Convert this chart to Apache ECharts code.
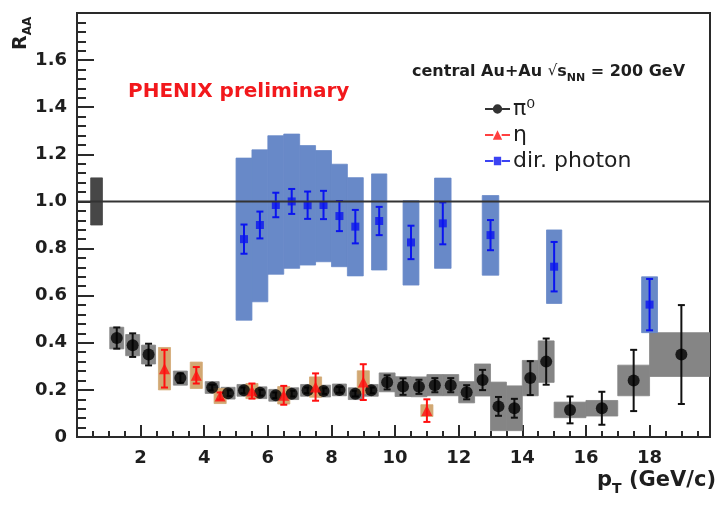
<!DOCTYPE html>
<html><head><meta charset="utf-8">
<script src="https://cdn.jsdelivr.net/npm/echarts@6/dist/echarts.min.js"></script>
<style>html,body{margin:0;padding:0;background:#fff}#c{width:719px;height:508px}</style>
</head><body><div id="c"></div>
<script>
// ---- data ----
const pi0X   = [1.25,1.75,2.25,3.25,4.25,4.75,5.25,5.75,6.25,6.75,7.25,7.75,8.25,8.75,9.25,9.75,10.25,10.75,11.25,11.75,12.25,12.75,13.25,13.75,14.25,14.75,15.5,16.5,17.5,19];
const pi0Y   = [0.42,0.39,0.35,0.25,0.21,0.186,0.198,0.188,0.177,0.184,0.198,0.195,0.2,0.184,0.198,0.232,0.214,0.213,0.22,0.22,0.19,0.242,0.13,0.122,0.25,0.32,0.115,0.122,0.24,0.35];
const pi0Err = [0.045,0.05,0.046,0.02,0.012,0.012,0.012,0.012,0.012,0.012,0.012,0.012,0.012,0.012,0.012,0.03,0.035,0.03,0.03,0.03,0.03,0.043,0.04,0.04,0.072,0.098,0.057,0.07,0.13,0.21];
const pi0Sys = [0.046,0.045,0.04,0.03,0.025,0.025,0.025,0.025,0.025,0.025,0.025,0.025,0.025,0.025,0.025,0.04,0.042,0.042,0.045,0.045,0.045,0.068,0.103,0.095,0.075,0.088,0.033,0.033,0.065,0.093];
const pi0BinHalf = [0.22,0.22,0.22,0.22,0.22,0.22,0.22,0.22,0.22,0.22,0.22,0.22,0.22,0.22,0.22,0.25,0.25,0.25,0.25,0.25,0.25,0.25,0.25,0.25,0.25,0.25,0.5,0.5,0.5,1.0];

const etaX   = [2.75,3.75,4.5,5.5,6.5,7.5,9.0,11.0];
const etaY   = [0.29,0.262,0.174,0.195,0.177,0.212,0.233,0.112];
const etaErr = [0.08,0.035,0.015,0.032,0.04,0.058,0.076,0.048];
const etaSys = [0.09,0.056,0.032,0.032,0.037,0.043,0.048,0.025];
const etaBinHalf = [0.19,0.19,0.19,0.19,0.19,0.19,0.19,0.19];

const gamX   = [5.25,5.75,6.25,6.75,7.25,7.75,8.25,8.75,9.5,10.5,11.5,13,15,18];
const gamY   = [0.84,0.9,0.985,1.0,0.984,0.985,0.938,0.893,0.917,0.826,0.907,0.857,0.723,0.562];
const gamErr = [0.062,0.057,0.052,0.053,0.058,0.06,0.064,0.071,0.06,0.071,0.089,0.064,0.105,0.109];
const gamSysLo = [0.496,0.574,0.691,0.716,0.73,0.744,0.723,0.684,0.709,0.645,0.716,0.687,0.567,0.443];
const gamSysHi = [1.184,1.219,1.279,1.286,1.237,1.216,1.158,1.101,1.117,1.003,1.099,1.025,0.879,0.68];
const gamBinHalf = [0.25,0.25,0.25,0.25,0.25,0.25,0.25,0.25,0.24,0.25,0.26,0.26,0.24,0.25];

const normX = [0.615], normHalf = [0.185], normLo = [0.9], normHi = [1.1];
const unityX = [0, 19.9], unityY = [1, 1];

// ---- build ----
const F = 'DejaVu Sans';
const TXT = '#1e1e1e';
function boxData(xs, half, lo, hi){ return xs.map((x,i)=>[x-half[i], x+half[i], lo[i], hi[i]]); }
function errData(xs, ys, e){ return xs.map((x,i)=>[x, ys[i]-e[i], ys[i]+e[i]]); }
function boxSeries(name, data, color){
  return {type:'custom', name, data, clip:true, encode:{x:[0,1], y:[2,3]},
    renderItem(params, api){
      const a = api.coord([api.value(0), api.value(3)]);
      const b = api.coord([api.value(1), api.value(2)]);
      return {type:'rect', shape:{x:a[0], y:a[1], width:b[0]-a[0], height:b[1]-a[1]},
        style:{fill:color, stroke:color, lineWidth:0.8}};
    }};
}
function errSeries(name, data, color, cap){
  return {type:'custom', name, data, clip:true, encode:{x:0, y:[1,2]},
    renderItem(params, api){
      const x = api.value(0);
      const lo = api.coord([x, api.value(1)]);
      const hi = api.coord([x, api.value(2)]);
      const st = {stroke:color, lineWidth:2};
      return {type:'group', children:[
        {type:'line', shape:{x1:lo[0], y1:lo[1], x2:hi[0], y2:hi[1]}, style:st},
        {type:'line', shape:{x1:lo[0]-cap, y1:lo[1], x2:lo[0]+cap, y2:lo[1]}, style:st},
        {type:'line', shape:{x1:hi[0]-cap, y1:hi[1], x2:hi[0]+cap, y2:hi[1]}, style:st}
      ]};
    }};
}

const pi0Lo = pi0Y.map((y,i)=>y-pi0Sys[i]), pi0Hi = pi0Y.map((y,i)=>y+pi0Sys[i]);
const etaLo = etaY.map((y,i)=>y-etaSys[i]), etaHi = etaY.map((y,i)=>y+etaSys[i]);

const chart = echarts.init(document.getElementById('c'), null, {renderer:'canvas'});
const option = {
  animation:false,
  backgroundColor:'#fff',
  grid:{left:77, right:9, top:13, bottom:71, show:true, borderColor:'#2a2a2a', borderWidth:2, backgroundColor:'transparent'},
  xAxis:{type:'value', min:0, max:19.9, interval:2,
    axisLine:{show:true, onZero:false, lineStyle:{color:'#2a2a2a', width:2}},
    axisTick:{show:true, inside:true, length:12, lineStyle:{color:'#2a2a2a', width:2}},
    minorTick:{show:true, splitNumber:4, length:6, lineStyle:{color:'#2a2a2a', width:2}},
    splitLine:{show:false},
    axisLabel:{margin:12, color:TXT, fontFamily:F, fontWeight:'bold', fontSize:18,
      formatter:v=>(v>0 && v<19 && Math.abs(v%2)<1e-9)?String(v):''},
    name:'{b|p}{s|T}{b| (GeV/c)}', nameLocation:'end', nameGap:6,
    nameTextStyle:{align:'right', verticalAlign:'top', padding:[33,0,0,0], color:TXT,
      rich:{b:{fontFamily:F, fontWeight:'bold', fontSize:21, lineHeight:23, verticalAlign:'top', color:TXT},
            s:{fontFamily:F, fontWeight:'bold', fontSize:14, lineHeight:15, verticalAlign:'top', padding:[12,0,0,0], color:TXT}}}
  },
  yAxis:{type:'value', min:0, max:1.8, interval:0.2,
    axisLine:{show:true, onZero:false, lineStyle:{color:'#2a2a2a', width:2}},
    axisTick:{show:true, inside:true, length:17, lineStyle:{color:'#2a2a2a', width:2}},
    minorTick:{show:true, splitNumber:5, length:9, lineStyle:{color:'#2a2a2a', width:2}},
    splitLine:{show:false},
    axisLabel:{margin:10, color:TXT, fontFamily:F, fontWeight:'bold', fontSize:18,
      formatter:v=>v===0?'0':(v>1.7?'':v.toFixed(1))}
  },
  legend:{show:true, orient:'vertical', left:480, top:92, itemWidth:25, itemHeight:10, itemGap:2,
    textStyle:{fontFamily:F, fontSize:22, lineHeight:24, color:TXT, padding:[0,0,0,-2]},
    data:[
      {name:'π⁰', icon:'path://M0,4H7.6V6H0Z M16.4,4H24V6H16.4Z M16.5,5A4.5,4.5 0 1 1 7.5,5A4.5,4.5 0 1 1 16.5,5Z'},
      {name:'η', icon:'path://M0,4H8V6H0Z M16,4H24V6H16Z M12,0.5L16.5,9.5H7.5Z'},
      {name:'dir. photon', icon:'path://M0,4H8V6H0Z M16,4H24V6H16Z M8.5,1H15.5V9H8.5Z'}
    ]},
  graphic:[
    {type:'text', left:128, top:82, style:{text:'PHENIX preliminary', fill:'#f2181c', font:'bold 20px "DejaVu Sans"'}},
    {type:'text', x:412, y:64, style:{text:'{b|central Au+Au }{r|√}{b|s}{s|NN}{b| = 200 GeV}',
      rich:{b:{fontFamily:F, fontWeight:'bold', fontSize:16, lineHeight:17, verticalAlign:'top', fill:TXT},
            r:{fontFamily:F, fontSize:15, lineHeight:17, verticalAlign:'top', fill:TXT},
            s:{fontFamily:F, fontWeight:'bold', fontSize:11, lineHeight:12, verticalAlign:'top', padding:[9,0,0,0], fill:TXT}}}},
    {type:'text', x:22, y:50, rotation:Math.PI/2, style:{text:'{m|R}{s|AA}', align:'left', verticalAlign:'middle',
      rich:{m:{fontFamily:F, fontWeight:'bold', fontSize:19, lineHeight:20, verticalAlign:'top', fill:TXT},
            s:{fontFamily:F, fontWeight:'bold', fontSize:12, lineHeight:13, verticalAlign:'top', padding:[10,0,0,0], fill:TXT}}}}
  ],
  series:[
    {type:'line', name:'unity', data:unityX.map((x,i)=>[x, unityY[i]]), symbol:'none', silent:true,
      lineStyle:{color:'#333', width:2}},
    boxSeries('norm', boxData(normX, normHalf, normLo, normHi), '#474747'),
    boxSeries('pi0sys', boxData(pi0X, pi0BinHalf, pi0Lo, pi0Hi), '#858585'),
    errSeries('pi0err', errData(pi0X, pi0Y, pi0Err), '#111', 3.5),
    {type:'scatter', name:'π⁰', data:pi0X.map((x,i)=>[x, pi0Y[i]]), symbol:'circle', symbolSize:12,
      itemStyle:{color:'#000'}},
    boxSeries('etasys', boxData(etaX, etaBinHalf, etaLo, etaHi), '#d2a873'),
    errSeries('etaerr', errData(etaX, etaY, etaErr), '#ff1010', 3.5),
    {type:'scatter', name:'η', data:etaX.map((x,i)=>[x, etaY[i]]), symbol:'triangle', symbolSize:11,
      itemStyle:{color:'#ff1010'}},
    boxSeries('gamsys', boxData(gamX, gamBinHalf, gamSysLo, gamSysHi), '#6889c8'),
    errSeries('gamerr', errData(gamX, gamY, gamErr), '#0a14f0', 3.5),
    {type:'scatter', name:'dir. photon', data:gamX.map((x,i)=>[x, gamY[i]]), symbol:'rect', symbolSize:8,
      itemStyle:{color:'#0a14f0'}}
  ]
};
chart.setOption(option);
</script>
</body></html>
